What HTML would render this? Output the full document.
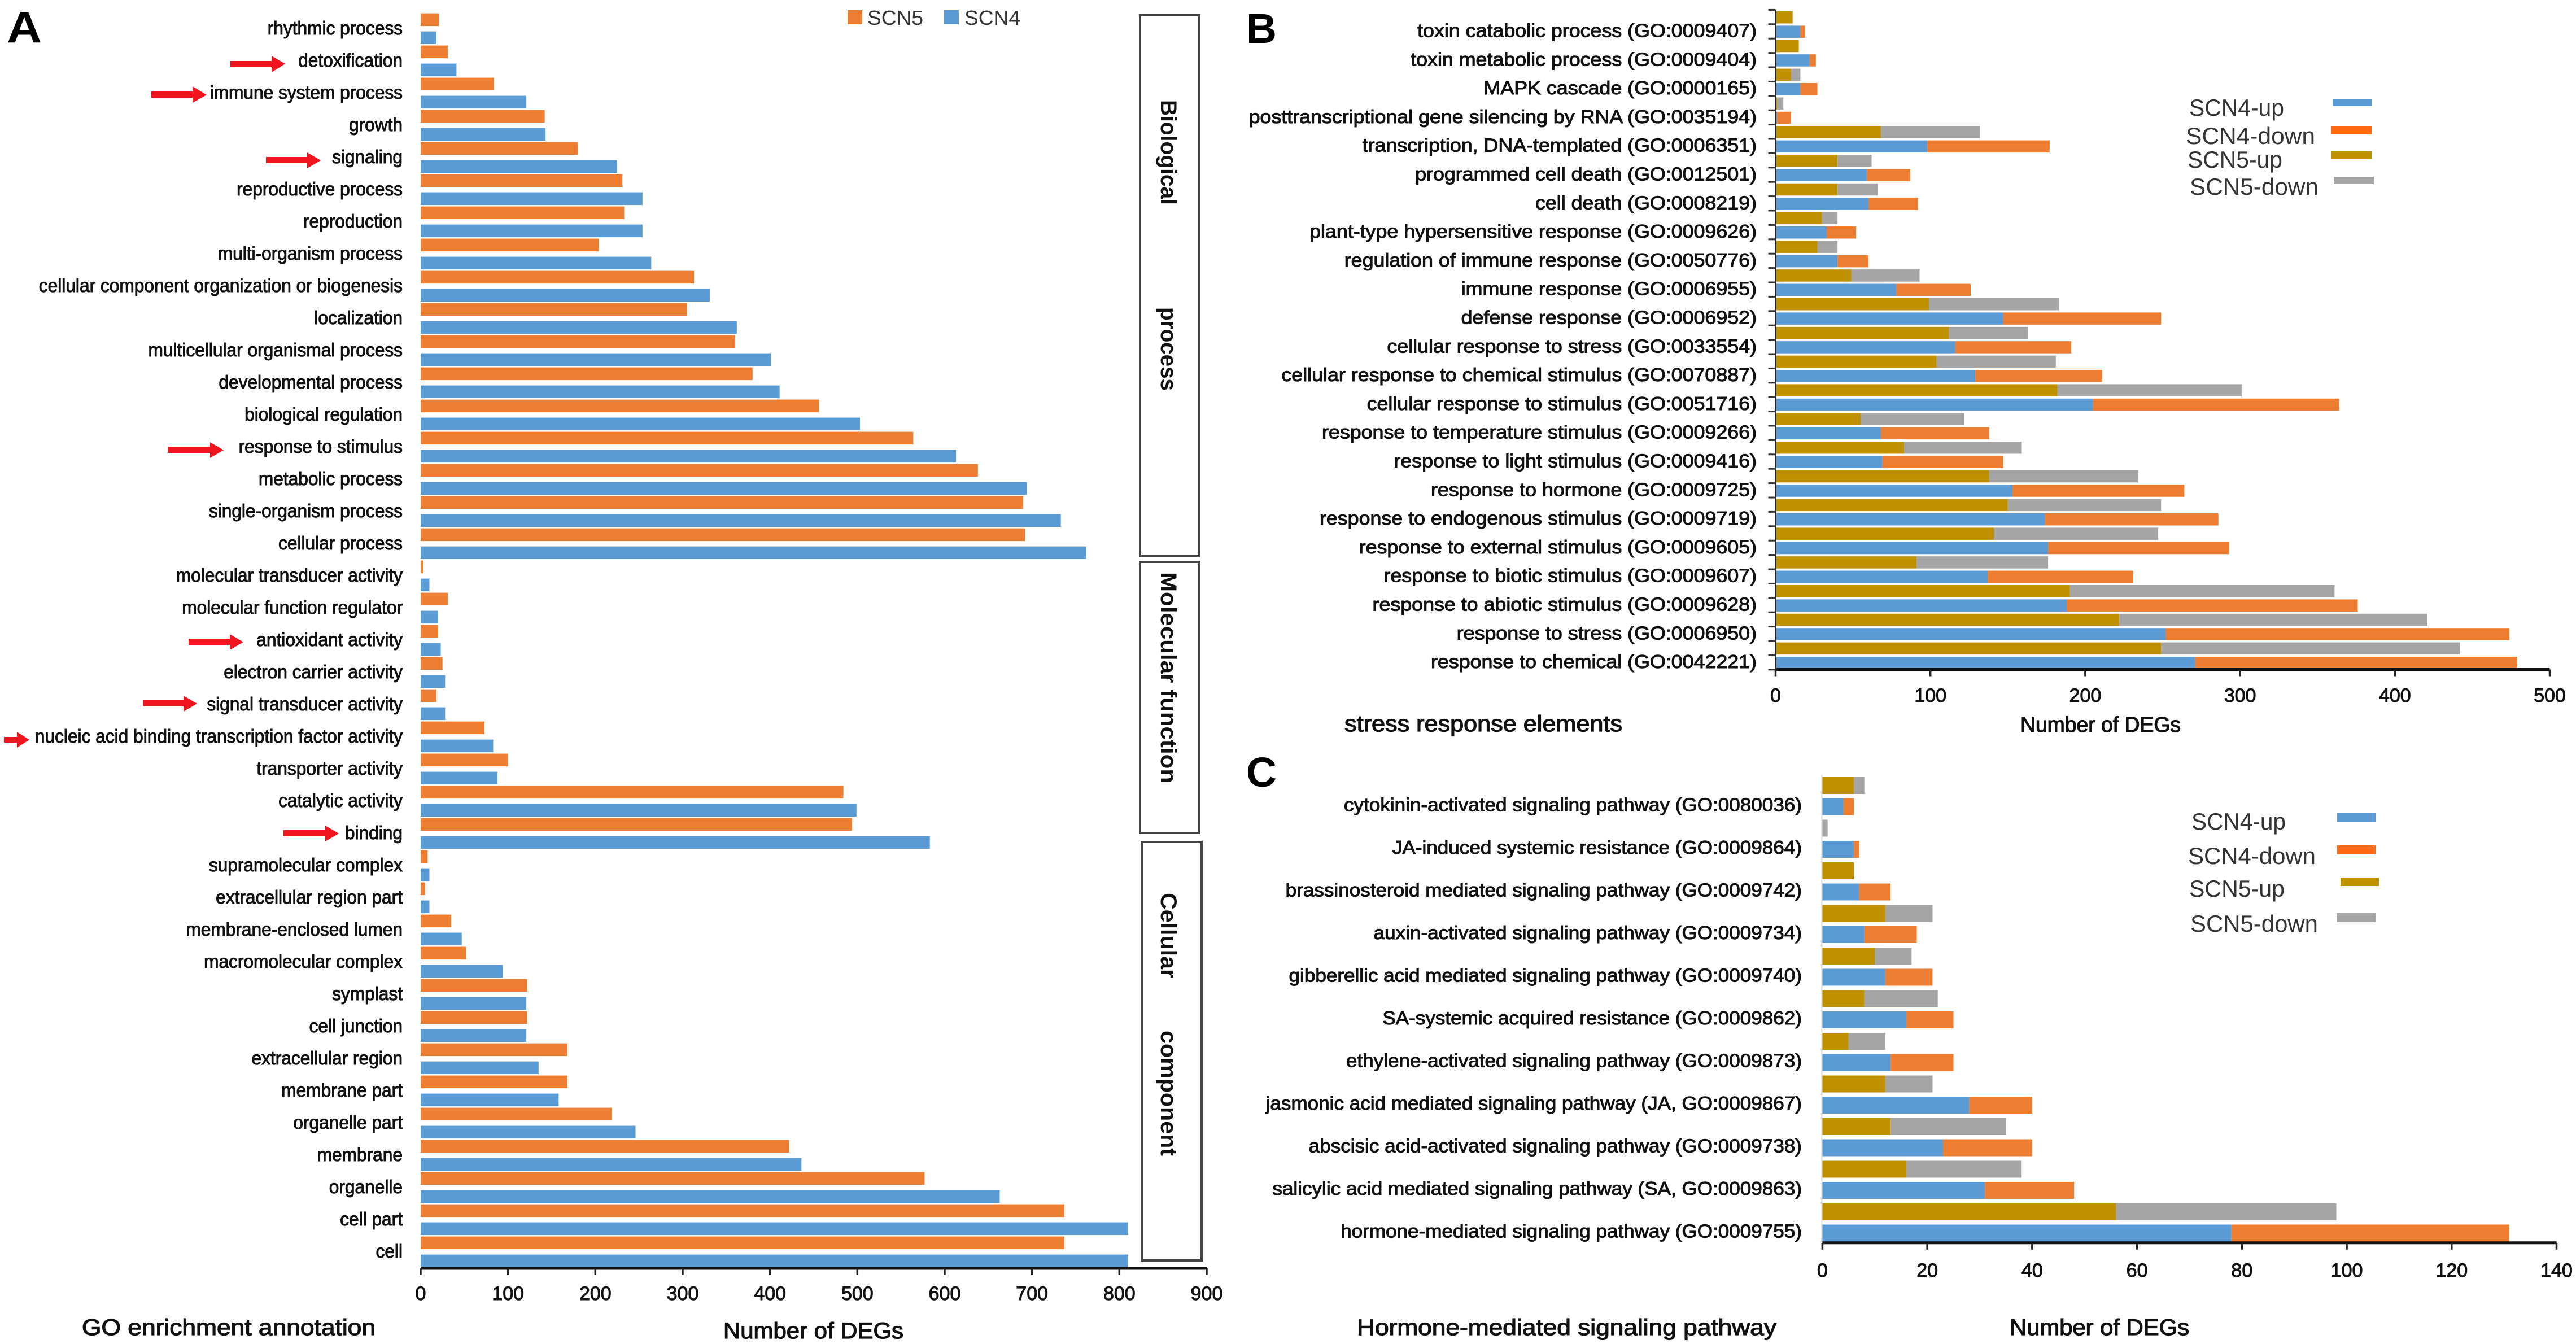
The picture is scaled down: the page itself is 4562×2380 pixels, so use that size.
<!DOCTYPE html>
<html lang="en">
<head>
<meta charset="utf-8">
<title>GO enrichment, stress response and hormone signaling DEGs</title>
<style>
html,body{margin:0;padding:0;background:#fff;}
#figure{display:block;width:4562px;height:2380px;font-family:"Liberation Sans",sans-serif;}
</style>
</head>
<body>
<svg id="figure" xmlns="http://www.w3.org/2000/svg" width="4562" height="2380" viewBox="0 0 4562 2380">
  <rect x="0" y="0" width="4562" height="2380" fill="#fff"/>

  <g font-family="Liberation Sans, sans-serif">
    <text x="12" y="75" font-size="78" font-weight="700" fill="#000" textLength="62" lengthAdjust="spacingAndGlyphs">A</text>
    <rect x="1501" y="18" width="26" height="25" fill="#ED7D31"/>
    <text x="1536" y="44" font-size="36" fill="#333" textLength="99" lengthAdjust="spacingAndGlyphs">SCN5</text>
    <rect x="1672" y="18" width="26" height="25" fill="#5B9BD5"/>
    <text x="1708" y="44" font-size="36" fill="#333" textLength="99" lengthAdjust="spacingAndGlyphs">SCN4</text>

    <rect x="2019" y="27" width="105" height="958" fill="none" stroke="#444" stroke-width="4"/>
    <rect x="2019" y="995" width="105" height="480" fill="none" stroke="#444" stroke-width="4"/>
    <rect x="2022" y="1491" width="106" height="741" fill="none" stroke="#444" stroke-width="4"/>

    <text transform="translate(2056,177) rotate(90)" font-size="40" font-weight="700" fill="#111" textLength="186" lengthAdjust="spacingAndGlyphs">Biological</text>
    <text transform="translate(2056,544) rotate(90)" font-size="40" font-weight="700" fill="#111" textLength="148" lengthAdjust="spacingAndGlyphs">process</text>
    <text transform="translate(2056,1013) rotate(90)" font-size="40" font-weight="700" fill="#111" textLength="374" lengthAdjust="spacingAndGlyphs">Molecular function</text>
    <text transform="translate(2056,1581) rotate(90)" font-size="40" font-weight="700" fill="#111" textLength="151" lengthAdjust="spacingAndGlyphs">Cellular</text>
    <text transform="translate(2056,1825) rotate(90)" font-size="40" font-weight="700" fill="#111" textLength="222" lengthAdjust="spacingAndGlyphs">component</text>

    <text x="145" y="2364" font-size="40" fill="#111" stroke="#111" stroke-width="1.2" textLength="520" lengthAdjust="spacingAndGlyphs">GO enrichment annotation</text>
    <text x="1281" y="2370" font-size="40" fill="#111" stroke="#111" stroke-width="1.2" textLength="319" lengthAdjust="spacingAndGlyphs">Number of DEGs</text>

    <g fill="#F0141E">
      <polygon points="408,108 481,108 481,99 505,113 481,128 481,119 408,119"/>
      <polygon points="268,162 341,162 341,153 366,168 341,182 341,173 268,173"/>
      <polygon points="471,278 544,278 544,270 568,284 544,298 544,289 471,289"/>
      <polygon points="297,791 372,791 372,783 396,797 372,811 372,802 297,802"/>
      <polygon points="334,1131 407,1131 407,1123 431,1137 407,1151 407,1142 334,1142"/>
      <polygon points="253,1240 325,1240 325,1232 349,1246 325,1260 325,1251 253,1251"/>
      <polygon points="7,1305 30,1305 30,1296 52,1310 30,1324 30,1315 7,1315"/>
      <polygon points="502,1470 576,1470 576,1462 600,1476 576,1490 576,1481 502,1481"/>
    </g>
  </g>

  <g font-family="Liberation Sans, sans-serif">
    <text x="2207" y="76" font-size="74" font-weight="700" fill="#000" textLength="54" lengthAdjust="spacingAndGlyphs">B</text>
    <text x="3877" y="205" font-size="42" fill="#333" textLength="168" lengthAdjust="spacingAndGlyphs">SCN4-up</text>
    <rect x="4131" y="176" width="69" height="12" fill="#5B9BD5"/>
    <text x="3871" y="255" font-size="42" fill="#333" textLength="229" lengthAdjust="spacingAndGlyphs">SCN4-down</text>
    <rect x="4128" y="224" width="72" height="14" fill="#FF6A13"/>
    <text x="3874" y="297" font-size="42" fill="#333" textLength="168" lengthAdjust="spacingAndGlyphs">SCN5-up</text>
    <rect x="4128" y="268" width="72" height="14" fill="#BF9000"/>
    <text x="3878" y="345" font-size="42" fill="#333" textLength="228" lengthAdjust="spacingAndGlyphs">SCN5-down</text>
    <rect x="4133" y="313" width="71" height="13" fill="#A5A5A5"/>
    <text x="2381" y="1295" font-size="40" fill="#111" stroke="#111" stroke-width="1.2" textLength="492" lengthAdjust="spacingAndGlyphs">stress response elements</text>
    <text x="3578" y="1296" font-size="38" fill="#111" stroke="#111" stroke-width="1.2" textLength="284" lengthAdjust="spacingAndGlyphs">Number of DEGs</text>
  </g>

  <g font-family="Liberation Sans, sans-serif">
    <text x="2207" y="1393" font-size="74" font-weight="700" fill="#000" textLength="54" lengthAdjust="spacingAndGlyphs">C</text>
    <text x="3881" y="1469" font-size="42" fill="#333" textLength="167" lengthAdjust="spacingAndGlyphs">SCN4-up</text>
    <rect x="4139" y="1440" width="68" height="16" fill="#5B9BD5"/>
    <text x="3875" y="1530" font-size="42" fill="#333" textLength="226" lengthAdjust="spacingAndGlyphs">SCN4-down</text>
    <rect x="4139" y="1497" width="68" height="16" fill="#FF6A13"/>
    <text x="3877" y="1588" font-size="42" fill="#333" textLength="169" lengthAdjust="spacingAndGlyphs">SCN5-up</text>
    <rect x="4145" y="1554" width="68" height="15" fill="#BF9000"/>
    <text x="3879" y="1650" font-size="42" fill="#333" textLength="226" lengthAdjust="spacingAndGlyphs">SCN5-down</text>
    <rect x="4139" y="1617" width="68" height="16" fill="#A5A5A5"/>
    <text x="2403" y="2364" font-size="40" fill="#111" stroke="#111" stroke-width="1.2" textLength="743" lengthAdjust="spacingAndGlyphs">Hormone-mediated signaling pathway</text>
    <text x="3559" y="2364" font-size="40" fill="#111" stroke="#111" stroke-width="1.2" textLength="318" lengthAdjust="spacingAndGlyphs">Number of DEGs</text>
  </g>

  <g id="chart-a"></g>
  <g id="chart-b"></g>
  <g id="chart-c"></g>
</svg>

<script>
const aCategories = ["rhythmic process","detoxification","immune system process","growth","signaling","reproductive process","reproduction","multi-organism process","cellular component organization or biogenesis","localization","multicellular organismal process","developmental process","biological regulation","response to stimulus","metabolic process","single-organism process","cellular process","molecular transducer activity","molecular function regulator","antioxidant activity","electron carrier activity","signal transducer activity","nucleic acid binding transcription factor activity","transporter activity","catalytic activity","binding","supramolecular complex","extracellular region part","membrane-enclosed lumen","macromolecular complex","symplast","cell junction","extracellular region","membrane part","organelle part","membrane","organelle","cell part","cell"];
const aScn5 = [21,31,84,142,180,231,233,204,313,305,360,380,456,564,638,690,692,3,31,20,25,18,73,100,484,494,8,5,35,52,122,122,168,168,219,422,577,737,737];
const aScn4 = [18,41,121,143,225,254,254,264,331,362,401,411,503,613,694,733,762,10,20,23,28,28,83,88,499,583,10,10,47,94,121,121,135,158,246,436,663,810,810];
const aTicks = [0,100,200,300,400,500,600,700,800,900];

const bCategories = ["toxin catabolic process (GO:0009407)","toxin metabolic process (GO:0009404)","MAPK cascade (GO:0000165)","posttranscriptional gene silencing by RNA (GO:0035194)","transcription, DNA-templated (GO:0006351)","programmed cell death (GO:0012501)","cell death (GO:0008219)","plant-type hypersensitive response (GO:0009626)","regulation of immune response (GO:0050776)","immune response (GO:0006955)","defense response (GO:0006952)","cellular response to stress (GO:0033554)","cellular response to chemical stimulus (GO:0070887)","cellular response to stimulus (GO:0051716)","response to temperature stimulus (GO:0009266)","response to light stimulus (GO:0009416)","response to hormone (GO:0009725)","response to endogenous stimulus (GO:0009719)","response to external stimulus (GO:0009605)","response to biotic stimulus (GO:0009607)","response to abiotic stimulus (GO:0009628)","response to stress (GO:0006950)","response to chemical (GO:0042221)"];
const bScn4Up = [16,22,16,1,98,59,60,33,40,78,147,116,129,205,68,69,153,174,176,137,188,252,271];
const bScn4Down = [3,4,11,9,79,28,32,19,20,48,102,75,82,159,70,78,111,112,117,94,188,222,208];
const bScn5Up = [11,15,10,1,68,40,40,30,27,49,99,112,104,182,55,83,138,150,141,91,190,222,249];
const bScn5Down = [0,0,6,4,64,22,26,10,13,44,84,51,77,119,67,76,96,99,106,85,171,199,193];
const bTicks = [0,100,200,300,400,500];

const cCategories = ["cytokinin-activated signaling pathway (GO:0080036)","JA-induced systemic resistance (GO:0009864)","brassinosteroid mediated signaling pathway (GO:0009742)","auxin-activated signaling pathway (GO:0009734)","gibberellic acid mediated signaling pathway (GO:0009740)","SA-systemic acquired resistance (GO:0009862)","ethylene-activated signaling pathway (GO:0009873)","jasmonic acid mediated signaling pathway (JA, GO:0009867)","abscisic acid-activated signaling pathway (GO:0009738)","salicylic acid mediated signaling pathway (SA, GO:0009863)","hormone-mediated signaling pathway (GO:0009755)"];
const cScn4Up = [4,6,7,8,12,16,13,28,23,31,78];
const cScn4Down = [2,1,6,10,9,9,12,12,17,17,53];
const cScn5Up = [6,0,6,12,10,8,5,12,13,16,56];
const cScn5Down = [2,1,0,9,7,14,7,9,22,22,42];
const cTicks = [0,20,40,60,80,100,120,140];

const SVG_NS = "http://www.w3.org/2000/svg";
const ORANGE = "#ED7D31", BLUE = "#5B9BD5", GOLD = "#BF9000", GRAY = "#A5A5A5";

function rect(parent, x, y, w, h, fill) {
  const r = document.createElementNS(SVG_NS, "rect");
  r.setAttribute("x", x);
  r.setAttribute("y", y);
  r.setAttribute("width", Math.max(0, w));
  r.setAttribute("height", h);
  r.setAttribute("fill", fill);
  parent.appendChild(r);
  return r;
}
function line(parent, x1, y1, x2, y2, color, width) {
  const l = document.createElementNS(SVG_NS, "line");
  l.setAttribute("x1", x1);
  l.setAttribute("y1", y1);
  l.setAttribute("x2", x2);
  l.setAttribute("y2", y2);
  l.setAttribute("stroke", color);
  l.setAttribute("stroke-width", width);
  parent.appendChild(l);
  return l;
}
function label(parent, str, x, y, size, sx, anchor) {
  const t = document.createElementNS(SVG_NS, "text");
  t.setAttribute("transform", "translate(" + x + "," + y + ") scale(" + sx + ",1)");
  t.setAttribute("font-size", size);
  t.setAttribute("text-anchor", anchor);
  t.setAttribute("dominant-baseline", "central");
  t.setAttribute("font-family", "Liberation Sans, sans-serif");
  t.setAttribute("fill", "#111");
  t.setAttribute("stroke", "#111");
  t.setAttribute("stroke-width", "1");
  t.textContent = str;
  parent.appendChild(t);
  return t;
}
function drawXAxis(parent, scale, ticks, axisY, labelY, size, sx) {
  const axis = line(parent, scale(ticks[0]), axisY, scale(ticks[ticks.length - 1]), axisY, "#111", 5);
  
  
  ticks.forEach(function (v) {
    const tick = line(parent, scale(v), axisY, scale(v), axisY + 12, "#222", 3.5);
    
    
    const tl = label(parent, String(v), scale(v), labelY, size, sx, "middle");
    
    
  });
}

/* Panel A */
const chartA = document.getElementById("chart-a");
const xA = function (v) { return 745 + v * (2137 - 745) / 900; };
const rowA = function (i) { return 23.6 + i * 57; };
aCategories.forEach(function (name, i) {
  const top = rowA(i);
  const o = rect(chartA, xA(0), top, xA(aScn5[i]) - xA(0), 22.5, ORANGE);
  
  
  const b = rect(chartA, xA(0), top + 32, xA(aScn4[i]) - xA(0), 22.5, BLUE);
  
  
  const t = label(chartA, name, 713, top + 26, 33, 0.96, "end");
  
  
});
drawXAxis(chartA, xA, aTicks, 2246, 2291, 34, 1);

/* Panel B */
const chartB = document.getElementById("chart-b");
const xB = function (v) { return 3144.5 + v * (4515.5 - 3144.5) / 500; };
const rowB = function (i) { return 20 + i * 50.8; };
bCategories.forEach(function (name, i) {
  const top = rowB(i);
  const up5 = rect(chartB, xB(0), top, xB(bScn5Up[i]) - xB(0), 21.5, GOLD);
  
  
  const down5 = rect(chartB, xB(bScn5Up[i]), top, xB(bScn5Down[i]) - xB(0), 21.5, GRAY);
  
  
  const up4 = rect(chartB, xB(0), top + 25.4, xB(bScn4Up[i]) - xB(0), 21.5, BLUE);
  
  
  const down4 = rect(chartB, xB(bScn4Up[i]), top + 25.4, xB(bScn4Down[i]) - xB(0), 21.5, ORANGE);
  
  
  const t = label(chartB, name, 3111, top + 35, 33, 1.085, "end");
  
  
});
const yAxisB = line(chartB, xB(0), rowB(0) - 2.6, xB(0), 1185.5, "#222", 3);


for (let k = 0; k <= 2 * bCategories.length; k++) {
  const yTick = rowB(0) - 2.6 + k * rowB(1) / 2 - k * rowB(0) / 2;
  const tickB = line(chartB, xB(0) - 13, yTick, xB(0), yTick, "#333", 3);
  
  
}
drawXAxis(chartB, xB, bTicks, 1185.5, 1232, 34, 1);

/* Panel C */
const chartC = document.getElementById("chart-c");
const xC = function (v) { return 3227.4 + v * (4527.5 - 3227.4) / 140; };
const rowC = function (i) { return 1376 + i * 75.5; };
cCategories.forEach(function (name, i) {
  const top = rowC(i);
  const up5 = rect(chartC, xC(0), top, xC(cScn5Up[i]) - xC(0), 30, GOLD);
  
  
  const down5 = rect(chartC, xC(cScn5Up[i]), top, xC(cScn5Down[i]) - xC(0), 30, GRAY);
  
  
  const up4 = rect(chartC, xC(0), top + 37.5, xC(cScn4Up[i]) - xC(0), 30, BLUE);
  
  
  const down4 = rect(chartC, xC(cScn4Up[i]), top + 37.5, xC(cScn4Down[i]) - xC(0), 30, ORANGE);
  
  
  const t = label(chartC, name, 3191, top + 50, 33, 1.063, "end");
  
  
});
const yAxisC = line(chartC, xC(0) - 1, 1372, xC(0) - 1, 2200, "#d8d8d8", 2);


drawXAxis(chartC, xC, cTicks, 2200.8, 2250, 34, 1);
</script>
</body>
</html>
